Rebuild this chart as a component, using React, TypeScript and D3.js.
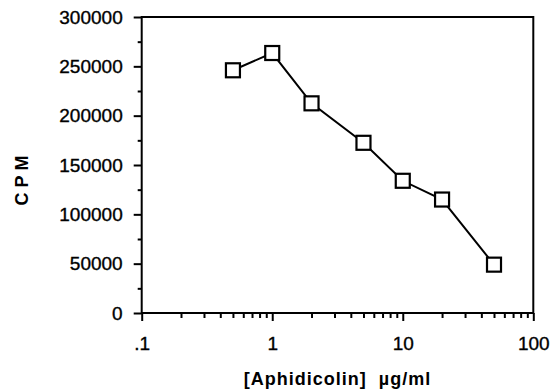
import * as d3 from 'd3';
import React, { useEffect, useRef } from 'react';

// aphidicolin dose response, CPM vs concentration (log x)
const concentrations = [0.5, 1, 2, 5, 10, 20, 50];
const cpmValues = [246000, 263500, 212500, 172500, 134000, 115000, 49000];

const xTickValues = [0.1, 1, 10, 100];
const xTickLabels = ['.1', '1', '10', '100'];
const yTickValues = [0, 50000, 100000, 150000, 200000, 250000, 300000];

export default () => {
    const ref = useRef<any>();

    useEffect(() => {
        const font = '"Liberation Sans", Arial, Helvetica, sans-serif';
        const left = 141.7, right = 533.3, top = 17, bottom = 313;

        const svg = d3.select<any, any>(ref.current);
        svg.selectAll('*').remove();

        const xScale = d3.scaleLog().domain([0.1, 100]).range([left, right]);
        const yScale = d3.scaleLinear().domain([0, 300000]).range([bottom, top]);

        // minor ticks
        const xMinor: number[] = [];
        [0.1, 1, 10].forEach((dec) => {
            for (let k = 2; k <= 9; k++) xMinor.push(dec * k);
        });
        const yMinor = d3.range(25000, 300000, 50000);

        const xMinorAxis = svg.append('g')
            .attr('transform', `translate(0, ${bottom})`)
            .call(d3.axisBottom(xScale).tickValues(xMinor).tickSize(5).tickFormat(() => ''));
        const yMinorAxis = svg.append('g')
            .attr('transform', `translate(${left}, 0)`)
            .call(d3.axisLeft(yScale).tickValues(yMinor).tickSize(4).tickFormat(() => ''));

        const xAxis = svg.append('g')
            .attr('transform', `translate(0, ${bottom})`)
            .call(d3.axisBottom(xScale)
                .tickValues(xTickValues)
                .tickSize(8)
                .tickPadding(16)
                .tickFormat((d, i) => xTickLabels[i]));
        const yAxis = svg.append('g')
            .attr('transform', `translate(${left}, 0)`)
            .call(d3.axisLeft(yScale)
                .tickValues(yTickValues)
                .tickSize(8)
                .tickPadding(11)
                .tickFormat((d: any) => String(d)));

        [xMinorAxis, yMinorAxis, xAxis, yAxis].forEach((a) => {
            a.select('.domain').remove();
            a.selectAll('line').attr('stroke', '#000').attr('stroke-width', 2);
            a.selectAll('text')
                .attr('fill', '#000')
                .attr('stroke', '#000')
                .attr('stroke-width', 0.35)
                .style('font-family', font)
                .style('font-size', '19px');
        });

        // frame
        svg.append('rect')
            .attr('x', left)
            .attr('y', top)
            .attr('width', right - left)
            .attr('height', bottom - top)
            .attr('fill', 'none')
            .attr('stroke', '#000')
            .attr('stroke-width', 2);

        const points = concentrations.map((c, i) => [c, cpmValues[i]] as [number, number]);

        const line = d3.line<[number, number]>()
            .x((d) => xScale(d[0]))
            .y((d) => yScale(d[1]));

        svg.append('path')
            .datum(points)
            .attr('d', line)
            .attr('fill', 'none')
            .attr('stroke', '#000')
            .attr('stroke-width', 2);

        const size = 14;
        svg.selectAll('.pt').data(points).join('rect')
            .attr('class', 'pt')
            .attr('x', (d) => xScale(d[0]) - size / 2)
            .attr('y', (d) => yScale(d[1]) - size / 2)
            .attr('width', size)
            .attr('height', size)
            .attr('fill', '#fff')
            .attr('stroke', '#000')
            .attr('stroke-width', 2.2);

        // axis titles
        svg.append('text')
            .attr('x', (left + right) / 2)
            .attr('y', 385)
            .attr('text-anchor', 'middle')
            .style('font-family', font)
            .style('font-size', '18px')
            .style('font-weight', 'bold')
            .style('letter-spacing', '1px')
            .attr('xml:space', 'preserve')
            .text('[Aphidicolin]  \u00b5g/ml');

        svg.append('text')
            .attr('transform', `translate(28, 178) rotate(-90)`)
            .attr('text-anchor', 'middle')
            .style('font-family', font)
            .style('font-size', '18px')
            .style('font-weight', 'bold')
            .style('letter-spacing', '5px')
            .text('CPM');
    }, []);

    return (
        <svg
            ref={ref}
            width={552}
            height={390}
            style={{ position: 'absolute', left: 0, top: 0, background: '#fff' }}
        ></svg>
    );
};
